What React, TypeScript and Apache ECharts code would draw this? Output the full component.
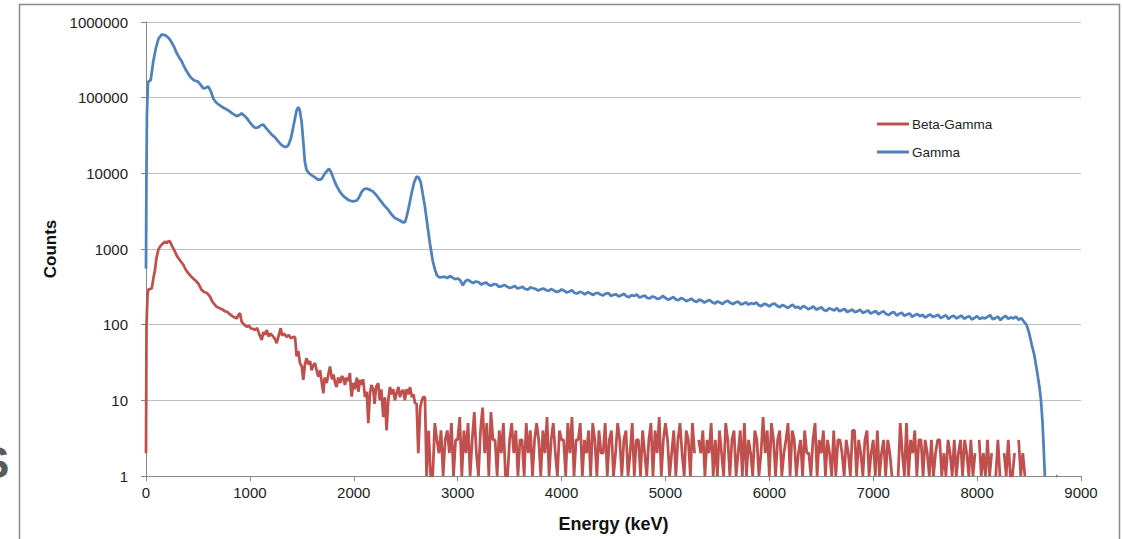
import React, { useEffect, useRef } from "react";
import * as echarts from "echarts";

const X_TICKS = [0, 1000, 2000, 3000, 4000, 5000, 6000, 7000, 8000, 9000];
const Y_TICKS = [1, 10, 100, 1000, 10000, 100000, 1000000];
const SERIES_NAMES = ["Beta-Gamma", "Gamma"];

// Gamma spectrum: smooth low-energy part (energy keV, counts)
const GAMMA_HEAD: [number, number][] = [
  [0, 550], [4, 8000], [9, 60000], [18, 150000], [25, 165000], [45, 170000], [70, 300000], [95, 450000],
  [120, 600000], [150, 680000], [185, 670000], [215, 620000], [240, 560000], [270, 470000], [295, 390000],
  [320, 340000], [345, 300000], [360, 270000], [390, 225000], [423, 190000], [460, 170000], [500, 163000],
  [530, 145000], [550, 133000], [575, 135000], [600, 140000], [625, 120000], [650, 96000], [680, 85000],
  [728, 76000], [760, 72000], [791, 68000], [830, 62000], [873, 57000], [900, 59000], [920, 62000],
  [945, 58000], [969, 54000], [1000, 47000], [1030, 42000], [1049, 40000], [1080, 40500], [1110, 43500],
  [1129, 44000], [1160, 39000], [1190, 35000], [1210, 32500], [1240, 30000], [1273, 26400], [1300, 24000],
  [1328, 22500], [1350, 22300], [1370, 23500], [1395, 29000], [1412, 37500], [1430, 50000], [1450, 68000],
  [1466, 75000], [1480, 68000], [1498, 48000], [1515, 25000], [1530, 14000], [1546, 11000], [1570, 10000],
  [1594, 9500], [1630, 8800], [1660, 8200], [1690, 8400], [1723, 10000], [1761, 11500], [1780, 10500],
  [1803, 8700], [1830, 7000], [1867, 5700], [1900, 5000], [1947, 4450], [1990, 4250], [2028, 4350],
  [2050, 4800], [2076, 5700], [2100, 6200], [2124, 6300], [2160, 6000], [2188, 5700], [2220, 5100],
  [2252, 4450], [2290, 3800], [2332, 3300], [2360, 2900], [2396, 2560], [2440, 2400], [2477, 2240],
  [2495, 2300], [2509, 2680], [2530, 3600], [2557, 5500], [2580, 7500], [2605, 9100], [2625, 8800],
  [2645, 7600], [2665, 5200], [2685, 3620], [2710, 2000], [2733, 1180], [2760, 700], [2782, 530],
  [2800, 450], [2825, 420],
];

// Gamma spectrum: continuum, one value every GAMMA_STEP keV from GAMMA_NOISE_START
const GAMMA_NOISE_START = 2850;
const GAMMA_STEP = 25;
const GAMMA_NOISE = [
  425, 430, 412, 440, 418, 400, 408, 385, 330, 378,
  392, 370, 355, 372, 366, 340, 352, 360, 335, 328,
  345, 338, 315, 322, 336, 318, 305, 312, 326, 300,
  308, 316, 296, 290, 312, 303, 298, 282, 294, 300,
  288, 279, 296, 284, 270, 276, 292, 281, 266, 274,
  285, 262, 258, 272, 266, 252, 268, 261, 247, 258,
  264, 250, 243, 257, 262, 240, 248, 252, 235, 244,
  256, 238, 231, 245, 240, 250, 228, 236, 242, 226,
  222, 236, 230, 218, 224, 240, 226, 214, 221, 232,
  216, 210, 224, 218, 204, 212, 221, 206, 200, 214,
  208, 196, 205, 212, 198, 190, 203, 196, 188, 201,
  206, 194, 187, 196, 202, 185, 190, 197, 184, 192,
  188, 196, 180, 176, 189, 184, 174, 186, 190, 178,
  170, 182, 176, 166, 175, 184, 168, 172, 162, 176,
  170, 160, 166, 174, 158, 163, 170, 156, 152, 165,
  160, 154, 166, 150, 156, 161, 147, 153, 158, 146,
  151, 157, 143, 148, 154, 140, 146, 151, 137, 145,
  150, 138, 134, 143, 147, 132, 139, 144, 131, 136,
  141, 127, 134, 138, 129, 135, 124, 131, 137, 126,
  130, 135, 122, 128, 133, 119, 127, 131, 121, 126,
  132, 120, 125, 129, 117, 123, 130, 119, 124, 121,
  127, 134, 118, 122, 128, 115, 124, 131, 119, 125,
  121, 128, 116, 122, 110,
];

// Gamma spectrum: end-point fall-off
const GAMMA_TAIL: [number, number | null][] = [
  [8475, 100], [8500, 78], [8525, 55], [8550, 40], [8575, 25], [8600, 15], [8615, 10], [8630, 5],
  [8640, 2.5], [8652, 1], [8665, null], [8760, 1], [8775, 1], [8790, null],
];

// Beta-Gamma coincidence spectrum: low-energy part
const BETA_HEAD: [number, number][] = [
  [0, 2], [5, 100], [15, 250], [22, 290], [55, 300], [70, 400], [87, 530], [100, 750], [119, 980],
  [140, 1100], [167, 1200], [185, 1250], [200, 1200], [215, 1270], [231, 1250], [250, 1100], [279, 920],
  [300, 800], [330, 700], [359, 620], [380, 540], [407, 480], [430, 440], [460, 400], [480, 380],
  [503, 350], [535, 288], [560, 270], [590, 260], [616, 235], [640, 200], [660, 185], [680, 172],
  [710, 165], [740, 158], [760, 150], [777, 149], [800, 140], [830, 130], [850, 125], [873, 121],
  [890, 135], [905, 141], [920, 110], [945, 100], [969, 94], [990, 97], [1010, 89], [1030, 88],
  [1049, 85], [1070, 90], [1090, 75], [1114, 63], [1130, 80], [1150, 74], [1162, 85], [1180, 70],
  [1200, 76], [1226, 69], [1240, 65], [1258, 57], [1275, 70], [1297, 90], [1310, 72], [1330, 76],
  [1354, 69], [1375, 73], [1395, 66], [1418, 69], [1435, 68], [1450, 38], [1466, 45], [1482, 31],
  [1500, 28], [1514, 18.6], [1530, 30], [1546, 36], [1560, 30], [1580, 33], [1594, 25], [1610, 29],
  [1627, 31], [1645, 24], [1659, 20.5], [1675, 25], [1690, 18], [1707, 12.4], [1720, 20], [1740, 17],
  [1755, 22], [1771, 28], [1790, 19], [1805, 22], [1820, 17], [1835, 15], [1850, 20], [1870, 17],
  [1885, 21], [1900, 19.6], [1915, 16], [1930, 20], [1947, 18], [1963, 23], [1972, 14], [1980, 11.2],
  [1995, 17], [2010, 14], [2030, 20], [2045, 13], [2060, 18.6], [2075, 16], [2090, 19], [2108, 11],
  [2125, 13], [2140, 5], [2155, 12], [2170, 16], [2188, 13.7], [2200, 9], [2215, 15], [2236, 16.8],
  [2250, 10], [2265, 14], [2284, 6], [2300, 11], [2316, 4], [2332, 10], [2348, 15], [2365, 12],
  [2380, 14], [2396, 10], [2412, 12.4], [2430, 15], [2445, 11], [2460, 13], [2476, 13.7], [2492, 10],
  [2508, 14], [2525, 12], [2541, 15], [2560, 11], [2575, 12], [2589, 9.2], [2605, 9], [2621, 2],
  [2640, 8], [2655, 10], [2669, 11], [2685, 11], [2701, 1],
];

// Beta-Gamma: sparse counts, one value every BETA_STEP keV from BETA_NOISE_START (null = zero counts)
const BETA_NOISE_START = 2720;
const BETA_STEP = 20;
const BETA_NOISE: (number | null)[] = [
  4, 1, 1, 5, 3, 2, 4, 1, 3, 4,
  2, 5, 1, 3, 3, 6, 1, 4, 2, 5,
  1, 3, 7, 2, 1, 4, 8, 2, 5, 1,
  7, 3, 3, 1, 4, 2, 5, 1, 1, 3,
  5, 2, 4, 1, 3, 3, 1, 5, 2, 4,
  1, 3, 5, 3, 1, 4, 2, 6, 1, 3,
  5, 2, 1, 4, 3, 3, 1, 5, 2, 6,
  1, 3, 3, 5, 1, 3, 2, 4, 1, 5,
  3, 1, 4, 2, 2, 5, 1, 3, 4, 1,
  2, 5, 3, 1, 3, 4, 1, 2, 5, 1,
  3, 3, 1, 4, 2, 1, 3, 5, 1, 4,
  2, 6, 1, 3, 5, 3, 1, 2, 4, 1,
  3, 5, 2, 1, 4, 3, 1, 5, 2, null,
  3, 2, 4, 1, 3, 2, 5, 1, 3, 1,
  4, 2, 1, 5, 3, 1, 3, 4, 1, 2,
  4, 1, 5, 1, 3, 2, 1, 4, 3, 1,
  2, 6, 2, 4, 1, 5, 3, 1, 3, 4,
  1, 2, 3, 5, 1, 4, 3, 1, 2, 3,
  1, 4, 2, 2, 1, 3, 5, 1, 3, 2,
  4, 1, 3, 2, 1, 4, 1, 3, 3, 2,
  1, 3, 2, 1, 4, 4, 1, 3, 2, 1,
  3, 4, 1, 2, 3, 1, 4, 1, 2, 3,
  1, 3, 2, 1, null, null, 1, 5, 2, 1,
  5, 1, 3, 2, 4, 1, 3, 3, 1, 3,
  2, 1, 3, 1, 2, 3, 3, 1, 2, 1,
  3, 2, 1, 3, 1, 2, 3, 1, 3, 2,
  1, 3, 1, 2, null, 3, 1, 2, 1, 3,
  1, 2, null, 1, 3, 1, null, 2, 1, 3,
  1, 1, 2, null, 3, 1, 2, 1, null, 2,
  null,
];

function build(
  head: [number, number | null][],
  start: number,
  step: number,
  noise: (number | null)[],
  tail: [number, number | null][]
) {
  const out: [number, number | string][] = [];
  head.forEach(([x, y]) => out.push([x, y == null ? "-" : y]));
  noise.forEach((y, i) => out.push([start + i * step, y == null ? "-" : y]));
  tail.forEach(([x, y]) => out.push([x, y == null ? "-" : y]));
  return out;
}

const FONT = "Liberation Sans";

export default function App() {
  const ref = useRef<HTMLDivElement>(null);
  useEffect(() => {
    if (!ref.current) return;
    const chart = echarts.init(ref.current, null, { renderer: "svg" });
    const gamma = build(GAMMA_HEAD, GAMMA_NOISE_START, GAMMA_STEP, GAMMA_NOISE, GAMMA_TAIL);
    const beta = build(BETA_HEAD, BETA_NOISE_START, BETA_STEP, BETA_NOISE, []);
    chart.setOption({
      animation: false,
      backgroundColor: "#ffffff",
      textStyle: { fontFamily: FONT },
      graphic: [
        {
          type: "rect",
          shape: { x: 19.5, y: 4.5, width: 1100, height: 600 },
          style: { fill: "none", stroke: "#8a8a8a", lineWidth: 1.5 },
          silent: true,
        },
        {
          type: "text",
          left: -20,
          top: 440,
          style: { text: "S", fontSize: 44, fontWeight: "bold", fill: "#5a5a5a", fontFamily: FONT },
          silent: true,
        },
      ],
      legend: {
        orient: "vertical",
        left: 877,
        top: 117,
        padding: 0,
        itemWidth: 32,
        itemHeight: 3,
        itemGap: 14,
        icon: "rect",
        data: SERIES_NAMES,
        textStyle: { fontSize: 13.5, color: "#222", fontFamily: FONT, padding: [0, 0, 0, -2] },
      },
      grid: { left: 146, right: 42, top: 22, bottom: 63, containLabel: false },
      xAxis: {
        type: "value",
        min: X_TICKS[0],
        max: X_TICKS[X_TICKS.length - 1],
        interval: X_TICKS[1] - X_TICKS[0],
        name: "Energy (keV)",
        nameLocation: "middle",
        nameGap: 39,
        nameTextStyle: { fontSize: 18, fontWeight: "bold", color: "#111", fontFamily: FONT },
        axisLine: { lineStyle: { color: "#868686", width: 1 } },
        axisTick: { show: true, length: 5, lineStyle: { color: "#868686" } },
        splitLine: { show: false },
        axisLabel: { fontSize: 15, color: "#222", margin: 9, fontFamily: FONT, formatter: (v: number) => String(v) },
      },
      yAxis: {
        type: "log",
        logBase: 10,
        min: Y_TICKS[0],
        max: Y_TICKS[Y_TICKS.length - 1],
        splitNumber: Y_TICKS.length - 1,
        name: "Counts",
        nameLocation: "middle",
        nameGap: 79,
        nameTextStyle: { fontSize: 17, fontWeight: "bold", color: "#111", fontFamily: FONT },
        axisLine: { show: true, lineStyle: { color: "#868686", width: 1 } },
        axisTick: { show: true, length: 5, lineStyle: { color: "#868686" } },
        splitLine: { show: true, lineStyle: { color: "#bfbfbf", width: 1 } },
        minorTick: { show: false },
        axisLabel: {
          fontSize: 15,
          color: "#222",
          margin: 18,
          fontFamily: FONT,
          formatter: (v: number) => String(Math.round(v)),
        },
      },
      series: [
        {
          name: SERIES_NAMES[0],
          type: "line",
          data: beta,
          showSymbol: false,
          symbol: "none",
          connectNulls: false,
          color: "#c0504d",
          lineStyle: { color: "#c0504d", width: 2.75 },
          z: 2,
        },
        {
          name: SERIES_NAMES[1],
          type: "line",
          data: gamma,
          showSymbol: false,
          symbol: "none",
          connectNulls: false,
          color: "#4f81bd",
          lineStyle: { color: "#4f81bd", width: 2.75 },
          z: 3,
        },
      ],
    });
    return () => chart.dispose();
  }, []);
  return (
    <div
      ref={ref}
      style={{ position: "fixed", left: 0, top: 0, width: 1123, height: 539, background: "#fff" }}
    />
  );
}
